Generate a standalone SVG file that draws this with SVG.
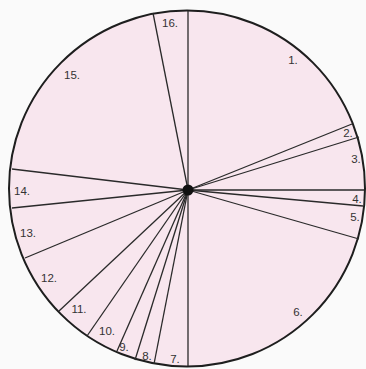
<svg xmlns="http://www.w3.org/2000/svg" width="366" height="369" viewBox="0 0 366 369">
<style>
.bg{fill:#fafafa}
.disc{fill:#f8e6ee;stroke:#1e1e1e;stroke-width:2}
.sp{stroke:#2a2a2a;stroke-width:1.3;fill:none}
.lb{font-family:"Liberation Sans",Arial,sans-serif;font-size:11.5px;fill:#333;text-anchor:middle}
</style>
<rect class="bg" x="0" y="0" width="366" height="369"/>
<g id="disc"><circle class="disc" cx="187" cy="188.5" r="178"/></g>
<g id="connectors">
<line class="sp" x1="188" y1="190" x2="188" y2="11"/>
<line class="sp" x1="188" y1="190" x2="153" y2="13"/>
<line class="sp" x1="188" y1="190" x2="352" y2="124"/>
<line class="sp" x1="188" y1="190" x2="359" y2="137"/>
<line class="sp" x1="188" y1="190" x2="364" y2="190"/>
<line class="sp" x1="188" y1="190" x2="363" y2="206"/>
<line class="sp" x1="188" y1="190" x2="359" y2="239"/>
<line class="sp" x1="188" y1="190" x2="188" y2="366"/>
<line class="sp" x1="188" y1="190" x2="154" y2="364"/>
<line class="sp" x1="188" y1="190" x2="135" y2="360"/>
<line class="sp" x1="188" y1="190" x2="117" y2="351"/>
<line class="sp" x1="188" y1="190" x2="87" y2="336"/>
<line class="sp" x1="188" y1="190" x2="59" y2="311"/>
<line class="sp" x1="188" y1="190" x2="25" y2="258"/>
<line class="sp" x1="188" y1="190" x2="12" y2="208"/>
<line class="sp" x1="188" y1="190" x2="12" y2="169"/>
</g>
<g id="center"><circle cx="188" cy="190" r="5.5" fill="#111"/></g>
<g id="s1"><text class="lb" x="293" y="64">1.</text></g>
<g id="s2"><text class="lb" x="348" y="137">2.</text></g>
<g id="s3"><text class="lb" x="356" y="163">3.</text></g>
<g id="s4"><text class="lb" x="357" y="203">4.</text></g>
<g id="s5"><text class="lb" x="355" y="221">5.</text></g>
<g id="s6"><text class="lb" x="298" y="316">6.</text></g>
<g id="s7"><text class="lb" x="175" y="363">7.</text></g>
<g id="s8"><text class="lb" x="147" y="360">8.</text></g>
<g id="s9"><text class="lb" x="124" y="351">9.</text></g>
<g id="s10"><text class="lb" x="107" y="335">10.</text></g>
<g id="s11"><text class="lb" x="79" y="313">11.</text></g>
<g id="s12"><text class="lb" x="49" y="282">12.</text></g>
<g id="s13"><text class="lb" x="28" y="237">13.</text></g>
<g id="s14"><text class="lb" x="22" y="195">14.</text></g>
<g id="s15"><text class="lb" x="72" y="79">15.</text></g>
<g id="s16"><text class="lb" x="170" y="27">16.</text></g>
</svg>
